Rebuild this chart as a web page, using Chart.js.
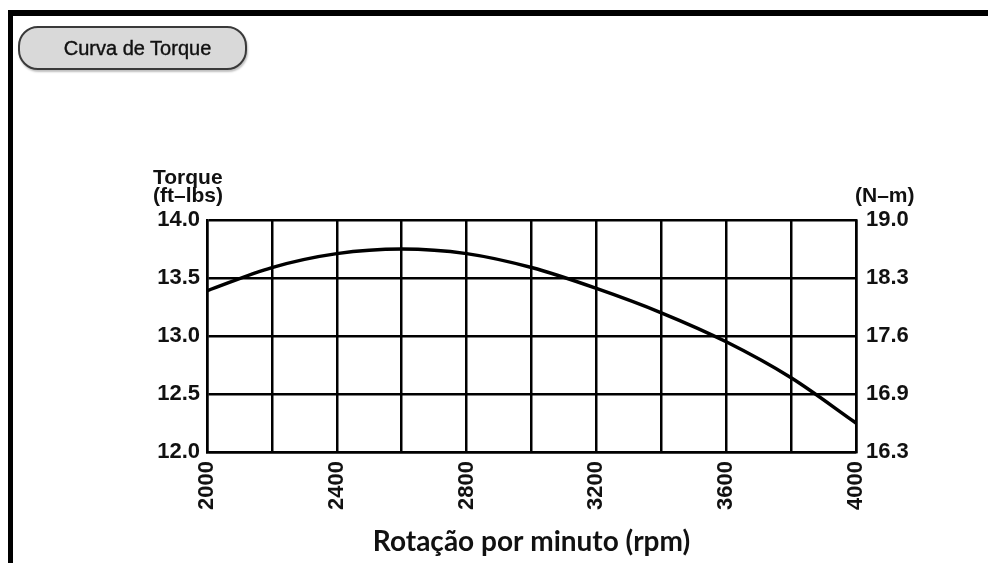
<!DOCTYPE html>
<html>
<head>
<meta charset="utf-8">
<script src="https://cdn.jsdelivr.net/npm/chart.js@4.4.1/dist/chart.umd.min.js"></script>
<style>
  html, body { margin: 0; padding: 0; background: #fff; }
  #wrap { position: relative; width: 988px; height: 563px; overflow: hidden; }
  #c { position: absolute; left: 0; top: 0; }
  #frame { position: absolute; left: 8px; top: 10px; width: 1000px; height: 600px;
           border-top: 6px solid #000; border-left: 5px solid #000; box-sizing: border-box; }
  #btn { position: absolute; left: 18px; top: 26px; width: 229px; height: 44px; box-sizing: border-box;
         border: 2px solid #3a3a3a; border-radius: 20px; background: #d9d9d9;
         box-shadow: 1px 2px 2px rgba(0,0,0,0.25);
         font-family: "Liberation Sans", Arial, sans-serif; font-size: 20px; color: #111;
         -webkit-text-stroke: 0.4px #111; padding-left: 10px;
         display: flex; align-items: center; justify-content: center; }
</style>
</head>
<body>
<div id="wrap">
  <canvas id="c" width="988" height="563"></canvas>
  <div id="frame"></div>
  <div id="btn">Curva de Torque</div>
</div>
<script>
// ---- data ----
const rpm = [2000, 2200, 2400, 2600, 2800, 3000, 3200, 3400, 3600, 3800, 4000];
const torqueFtLbs = [13.39, 13.59, 13.71, 13.75, 13.71, 13.59, 13.41, 13.20, 12.95, 12.64, 12.25];
const rpmTickLabels = ['2000', '', '2400', '', '2800', '', '3200', '', '3600', '', '4000'];
const torqueTickLabels = ['12.0', '12.5', '13.0', '13.5', '14.0'];
const nmTickLabels = ['16.3', '16.9', '17.6', '18.3', '19.0'];
const leftTitle = ['Torque', '(ft\u2013lbs)'];
const rightTitle = '(N\u2013m)';
const xTitle = 'Rota\u00e7\u00e3o por minuto (rpm)';

const tickFont = { family: '"Liberation Sans", Arial, sans-serif', size: 22, weight: 'bold' };
const ink = '#111';

const axisTitles = {
  id: 'axisTitles',
  afterDraw(chart) {
    const { ctx, chartArea } = chart;
    ctx.save();
    ctx.fillStyle = ink;
    ctx.font = 'bold 21px "Liberation Sans", Arial, sans-serif';
    ctx.textBaseline = 'alphabetic';
    ctx.textAlign = 'left';
    ctx.fillText(leftTitle[0], chartArea.left - 54, chartArea.top - 36);
    ctx.fillText(leftTitle[1], chartArea.left - 54, chartArea.top - 18);
    ctx.fillText(rightTitle, chartArea.right - 1, chartArea.top - 18);
    ctx.restore();
  }
};

new Chart(document.getElementById('c'), {
  type: 'line',
  data: {
    datasets: [{
      data: rpm.map((x, i) => ({ x: x, y: torqueFtLbs[i] })),
      borderColor: '#000',
      borderWidth: 3.5,
      pointRadius: 0,
      cubicInterpolationMode: 'monotone',
      fill: false
    }]
  },
  options: {
    responsive: false,
    animation: false,
    layout: { padding: { top: 220, left: 0, right: 0, bottom: 0 } },
    plugins: { legend: { display: false }, tooltip: { enabled: false } },
    scales: {
      x: {
        type: 'linear',
        min: 2000, max: 4000,
        afterBuildTicks(scale) { scale.ticks = rpm.map(v => ({ value: v })); },
        afterFit(scale) { scale.height = 111; },
        ticks: {
          autoSkip: false,
          maxRotation: 90, minRotation: 90,
          padding: 9,
          color: ink,
          font: tickFont,
          callback: (v, i) => rpmTickLabels[i]
        },
        grid: { color: '#000', lineWidth: 2.5, drawTicks: false },
        border: { color: '#000', width: 2.5 },
        title: {
          display: true,
          text: xTitle,
          color: '#111',
          font: { family: 'Lato, "Open Sans", sans-serif', size: 28, weight: 'bold' },
          padding: { top: 0, bottom: 4 }
        }
      },
      y: {
        position: 'left',
        min: 12, max: 14,
        afterBuildTicks(scale) { scale.ticks = torqueTickLabels.map(t => ({ value: parseFloat(t) })); },
        afterFit(scale) { scale.width = 207; },
        ticks: { padding: 7, color: ink, font: tickFont, callback: (v, i) => torqueTickLabels[i] },
        grid: { color: '#000', lineWidth: 2.5, drawTicks: false },
        border: { color: '#000', width: 2.5 }
      },
      y2: {
        position: 'right',
        min: 12, max: 14,
        afterBuildTicks(scale) { scale.ticks = torqueTickLabels.map(t => ({ value: parseFloat(t) })); },
        afterFit(scale) { scale.width = 132; },
        ticks: { padding: 10, color: ink, font: tickFont, callback: (v, i) => nmTickLabels[i] },
        grid: { display: false, drawTicks: false },
        border: { display: true, color: '#000', width: 2.5 }
      }
    }
  },
  plugins: [axisTitles]
});
</script>
</body>
</html>
